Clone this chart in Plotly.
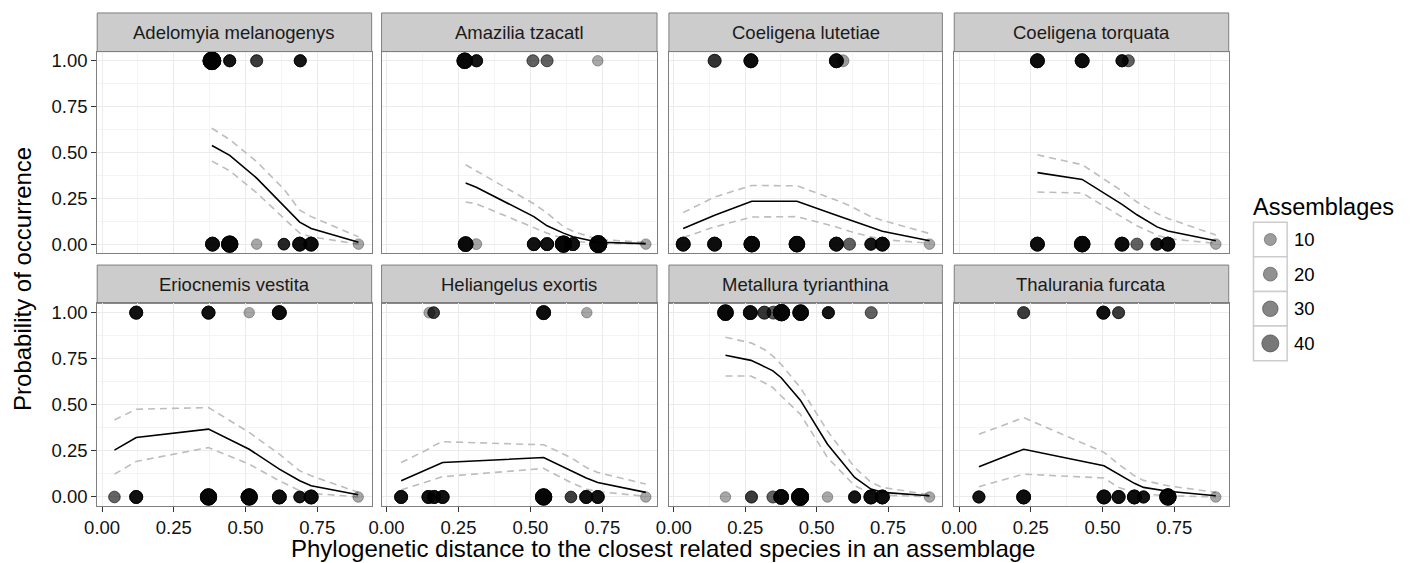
import plotly.graph_objects as go

# ---------------- data ----------------
species = ["Adelomyia melanogenys", "Amazilia tzacatl", "Coeligena lutetiae", "Coeligena torquata",
           "Eriocnemis vestita", "Heliangelus exortis", "Metallura tyrianthina", "Thalurania furcata"]

x_ticks = [0.00, 0.25, 0.50, 0.75]
x_tick_labels = ["0.00", "0.25", "0.50", "0.75"]
y_ticks = [0.00, 0.25, 0.50, 0.75, 1.00]
y_tick_labels = ["0.00", "0.25", "0.50", "0.75", "1.00"]
legend_values = [10, 20, 30, 40]

# observed points: distance, occurrence (0/1), assemblages, number of identical records
adelomyia_x = [0.383, 0.445, 0.539, 0.691, 0.385, 0.445, 0.539, 0.634, 0.689, 0.729, 0.894]
adelomyia_y = [1, 1, 1, 1, 0, 0, 0, 0, 0, 0, 0]
adelomyia_n = [45, 10, 10, 10, 20, 35, 3, 8, 20, 20, 3]
adelomyia_k = [5, 5, 3, 5, 5, 5, 1, 4, 5, 5, 1]
adelomyia_fit_x = [0.383, 0.445, 0.539, 0.634, 0.689, 0.729, 0.894]
adelomyia_fit = [0.538, 0.484, 0.360, 0.210, 0.120, 0.085, 0.010]
adelomyia_hi = [0.632, 0.570, 0.450, 0.300, 0.185, 0.150, 0.040]
adelomyia_lo = [0.453, 0.400, 0.280, 0.140, 0.060, 0.040, 0.000]

amazilia_x = [0.272, 0.313, 0.509, 0.558, 0.734, 0.275, 0.312, 0.512, 0.558, 0.615, 0.648, 0.736, 0.901]
amazilia_y = [1, 1, 1, 1, 1, 0, 0, 0, 0, 0, 0, 0, 0]
amazilia_n = [30, 10, 10, 10, 3, 25, 5, 15, 15, 35, 15, 40, 3]
amazilia_k = [5, 5, 2, 2, 1, 5, 1, 5, 5, 5, 5, 5, 1]
amazilia_fit_x = [0.275, 0.312, 0.512, 0.558, 0.615, 0.648, 0.736, 0.901]
amazilia_fit = [0.333, 0.310, 0.150, 0.100, 0.060, 0.040, 0.010, 0.003]
amazilia_hi = [0.433, 0.400, 0.220, 0.170, 0.095, 0.070, 0.025, 0.010]
amazilia_lo = [0.230, 0.220, 0.090, 0.060, 0.030, 0.015, 0.005, 0.000]

lutetiae_x = [0.143, 0.270, 0.592, 0.569, 0.033, 0.143, 0.273, 0.431, 0.569, 0.615, 0.690, 0.730, 0.895]
lutetiae_y = [1, 1, 1, 1, 0, 0, 0, 0, 0, 0, 0, 0, 0]
lutetiae_n = [15, 20, 10, 20, 20, 20, 30, 30, 20, 10, 10, 20, 3]
lutetiae_k = [3, 5, 1, 5, 5, 5, 5, 5, 5, 2, 5, 5, 1]
lutetiae_fit_x = [0.033, 0.143, 0.273, 0.431, 0.569, 0.615, 0.690, 0.730, 0.895]
lutetiae_fit = [0.085, 0.157, 0.234, 0.234, 0.158, 0.133, 0.091, 0.070, 0.018]
lutetiae_hi = [0.172, 0.257, 0.320, 0.318, 0.240, 0.210, 0.150, 0.130, 0.058]
lutetiae_lo = [0.036, 0.094, 0.148, 0.150, 0.094, 0.070, 0.040, 0.025, 0.005]

torquata_x = [0.273, 0.429, 0.590, 0.568, 0.273, 0.429, 0.568, 0.620, 0.690, 0.728, 0.895]
torquata_y = [1, 1, 1, 1, 0, 0, 0, 0, 0, 0, 0]
torquata_n = [20, 20, 10, 10, 20, 30, 20, 10, 10, 20, 3]
torquata_k = [5, 5, 2, 5, 5, 5, 5, 2, 5, 5, 1]
torquata_fit_x = [0.273, 0.429, 0.568, 0.620, 0.690, 0.728, 0.895]
torquata_fit = [0.390, 0.353, 0.217, 0.160, 0.094, 0.072, 0.018]
torquata_hi = [0.487, 0.433, 0.290, 0.230, 0.167, 0.140, 0.050]
torquata_lo = [0.284, 0.279, 0.148, 0.100, 0.050, 0.030, 0.004]

eriocnemis_x = [0.119, 0.371, 0.513, 0.618, 0.043, 0.119, 0.371, 0.513, 0.618, 0.689, 0.729, 0.893]
eriocnemis_y = [1, 1, 1, 1, 0, 0, 0, 0, 0, 0, 0, 0]
eriocnemis_n = [15, 15, 3, 20, 8, 15, 35, 35, 20, 8, 20, 3]
eriocnemis_k = [5, 5, 1, 5, 2, 5, 5, 5, 5, 5, 5, 1]
eriocnemis_fit_x = [0.043, 0.119, 0.371, 0.513, 0.618, 0.689, 0.729, 0.893]
eriocnemis_fit = [0.254, 0.323, 0.368, 0.259, 0.151, 0.088, 0.061, 0.012]
eriocnemis_hi = [0.418, 0.476, 0.485, 0.350, 0.232, 0.142, 0.115, 0.025]
eriocnemis_lo = [0.124, 0.193, 0.268, 0.178, 0.088, 0.034, 0.020, 0.000]

heliangelus_x = [0.149, 0.164, 0.546, 0.696, 0.051, 0.146, 0.166, 0.195, 0.546, 0.641, 0.694, 0.734, 0.901]
heliangelus_y = [1, 1, 1, 1, 0, 0, 0, 0, 0, 0, 0, 0, 0]
heliangelus_n = [5, 8, 20, 3, 15, 15, 15, 15, 35, 8, 15, 15, 3]
heliangelus_k = [1, 3, 5, 1, 5, 5, 5, 5, 5, 3, 5, 5, 1]
heliangelus_fit_x = [0.051, 0.146, 0.166, 0.195, 0.546, 0.641, 0.694, 0.734, 0.901]
heliangelus_fit = [0.088, 0.153, 0.167, 0.187, 0.214, 0.142, 0.103, 0.079, 0.025]
heliangelus_hi = [0.187, 0.260, 0.280, 0.300, 0.283, 0.214, 0.160, 0.133, 0.070]
heliangelus_lo = [0.038, 0.085, 0.095, 0.110, 0.155, 0.078, 0.043, 0.030, 0.003]

metallura_x = [0.181, 0.268, 0.317, 0.349, 0.377, 0.444, 0.541, 0.691,
               0.181, 0.272, 0.347, 0.376, 0.442, 0.538, 0.633, 0.690, 0.730, 0.895]
metallura_y = [1, 1, 1, 1, 1, 1, 1, 1, 0, 0, 0, 0, 0, 0, 0, 0, 0, 0]
metallura_n = [30, 20, 15, 15, 35, 30, 10, 10, 3, 10, 10, 25, 40, 3, 10, 20, 20, 3]
metallura_k = [5, 5, 3, 2, 5, 5, 5, 2, 1, 3, 2, 5, 5, 1, 5, 5, 5, 1]
metallura_fit_x = [0.181, 0.270, 0.317, 0.347, 0.376, 0.443, 0.538, 0.633, 0.690, 0.730, 0.895]
metallura_fit = [0.769, 0.741, 0.707, 0.684, 0.647, 0.525, 0.286, 0.106, 0.043, 0.025, 0.007]
metallura_hi = [0.866, 0.836, 0.800, 0.764, 0.719, 0.593, 0.358, 0.160, 0.080, 0.052, 0.012]
metallura_lo = [0.656, 0.656, 0.620, 0.593, 0.548, 0.449, 0.214, 0.061, 0.020, 0.010, 0.002]

thalurania_x = [0.225, 0.503, 0.556, 0.069, 0.225, 0.505, 0.556, 0.611, 0.643, 0.728, 0.895]
thalurania_y = [1, 1, 1, 0, 0, 0, 0, 0, 0, 0, 0]
thalurania_n = [10, 15, 10, 10, 20, 20, 15, 20, 10, 35, 3]
thalurania_k = [3, 5, 3, 5, 5, 5, 5, 5, 5, 5, 1]
thalurania_fit_x = [0.069, 0.225, 0.505, 0.556, 0.611, 0.643, 0.728, 0.895]
thalurania_fit = [0.164, 0.259, 0.169, 0.124, 0.074, 0.052, 0.031, 0.007]
thalurania_hi = [0.340, 0.431, 0.242, 0.178, 0.115, 0.090, 0.061, 0.025]
thalurania_lo = [0.056, 0.124, 0.103, 0.052, 0.025, 0.016, 0.007, 0.000]

panels = [
    (adelomyia_x, adelomyia_y, adelomyia_n, adelomyia_k, adelomyia_fit_x, adelomyia_fit, adelomyia_hi, adelomyia_lo),
    (amazilia_x, amazilia_y, amazilia_n, amazilia_k, amazilia_fit_x, amazilia_fit, amazilia_hi, amazilia_lo),
    (lutetiae_x, lutetiae_y, lutetiae_n, lutetiae_k, lutetiae_fit_x, lutetiae_fit, lutetiae_hi, lutetiae_lo),
    (torquata_x, torquata_y, torquata_n, torquata_k, torquata_fit_x, torquata_fit, torquata_hi, torquata_lo),
    (eriocnemis_x, eriocnemis_y, eriocnemis_n, eriocnemis_k, eriocnemis_fit_x, eriocnemis_fit, eriocnemis_hi, eriocnemis_lo),
    (heliangelus_x, heliangelus_y, heliangelus_n, heliangelus_k, heliangelus_fit_x, heliangelus_fit, heliangelus_hi, heliangelus_lo),
    (metallura_x, metallura_y, metallura_n, metallura_k, metallura_fit_x, metallura_fit, metallura_hi, metallura_lo),
    (thalurania_x, thalurania_y, thalurania_n, thalurania_k, thalurania_fit_x, thalurania_fit, thalurania_hi, thalurania_lo),
]

# ---------------- styling helpers ----------------
W, H = 1413, 563
FONT = "Liberation Sans, Arial, sans-serif"


def size_of(n):
    return (95.7 + 4.83 * n) ** 0.5


def color_of(n):
    a = 0.47 + 0.007 * n
    return f"rgba(0,0,0,{a:.3f})"


def px_x(p):
    return p / W


def px_y(p):
    return 1 - p / H


col_px = [(85, 362), (372, 650), (662, 938), (950, 1227)]
row_px = [(50.8, 253.2), (303.5, 507.0)]
strip_px = [(12.0, 50.8), (265.0, 303.5)]

fig = go.Figure()
shapes = []
annotations = []
layout_axes = {}

for i, (px_, py_, pn, pk, fx, ff, fh, fl) in enumerate(panels):
    r, c = divmod(i, 4)
    idx = "" if i == 0 else str(i + 1)
    xa, ya = "x" + idx, "y" + idx

    # confidence band edges and fit
    for yy, colr, dash in [(fh, "#bdbdbd", "7px,5px"), (fl, "#bdbdbd", "7px,5px"), (ff, "#000000", "solid")]:
        fig.add_trace(go.Scatter(x=fx, y=yy, mode="lines", xaxis=xa, yaxis=ya, showlegend=False,
                                 hoverinfo="skip",
                                 line=dict(color=colr, width=1.6, dash=dash)))

    # points (identical records stacked)
    ex, ey, es, ec = [], [], [], []
    for x, y, n, k in zip(px_, py_, pn, pk):
        for _ in range(k):
            ex.append(x)
            ey.append(y)
            es.append(size_of(n))
            ec.append(color_of(n))
    fig.add_trace(go.Scatter(x=ex, y=ey, mode="markers", xaxis=xa, yaxis=ya, showlegend=False,
                             marker=dict(size=es, color=ec, line=dict(color=ec, width=1))))

    x0, x1 = col_px[c]
    y0, y1 = row_px[r]
    grid = dict(showgrid=True, gridcolor="#ebebeb", gridwidth=1, zeroline=False,
                showline=True, linecolor="#7f7f7f", linewidth=1, mirror=True,
                ticks="outside", ticklen=5, tickwidth=1, tickcolor="#333333",
                tickfont=dict(family=FONT, size=18.5, color="#111111"))
    minor = dict(showgrid=True, gridcolor="#f4f4f4", gridwidth=1, tickvals=[0.125, 0.375, 0.625, 0.875])
    layout_axes["xaxis" + idx] = dict(grid, domain=[px_x(x0), px_x(x1)], range=[-0.017, 0.940],
                                      anchor=ya, tickvals=x_ticks, ticktext=x_tick_labels,
                                      showticklabels=(r == 1),
                                      ticks="outside" if r == 1 else "", minor=minor)
    layout_axes["yaxis" + idx] = dict(grid, domain=[px_y(y1), px_y(y0)], range=[-0.05, 1.05],
                                      anchor=xa, tickvals=y_ticks, ticktext=y_tick_labels,
                                      showticklabels=(c == 0),
                                      ticks="outside" if c == 0 else "", minor=minor)

    # facet strip
    s0, s1 = strip_px[r]
    shapes.append(dict(type="rect", xref="paper", yref="paper",
                       x0=px_x(x0), x1=px_x(x1), y0=px_y(s1), y1=px_y(s0),
                       fillcolor="#cccccc", line=dict(color="#7f7f7f", width=1), layer="below"))
    annotations.append(dict(text=species[i], xref="paper", yref="paper",
                            x=px_x((x0 + x1) / 2), y=px_y((s0 + s1) / 2),
                            showarrow=False, xanchor="center", yanchor="middle",
                            font=dict(family=FONT, size=18.5, color="#1a1a1a")))

# ---------------- legend (drawn on its own small axis) ----------------
leg_x0, leg_x1 = 1252, 1286
leg_top, leg_bot = 222, 361
leg_pos = list(range(len(legend_values)))
fig.add_trace(go.Scatter(x=[0] * len(legend_values), y=leg_pos, mode="markers", xaxis="x9", yaxis="y9",
                         showlegend=False, hoverinfo="skip",
                         marker=dict(size=[size_of(v) for v in legend_values],
                                     color=[color_of(v) for v in legend_values],
                                     line=dict(color=[color_of(v) for v in legend_values], width=1))))
layout_axes["xaxis9"] = dict(domain=[px_x(leg_x0), px_x(leg_x1)], range=[-0.5, 0.5], anchor="y9",
                             visible=False, fixedrange=True)
layout_axes["yaxis9"] = dict(domain=[px_y(leg_bot), px_y(leg_top)], range=[3.5, -0.5], anchor="x9",
                             visible=False, fixedrange=True)
step = (leg_bot - leg_top) / len(legend_values)
for j, v in enumerate(legend_values):
    t = leg_top + j * step
    shapes.append(dict(type="rect", xref="paper", yref="paper",
                       x0=px_x(leg_x0), x1=px_x(leg_x1), y0=px_y(t + step), y1=px_y(t),
                       fillcolor="white", line=dict(color="#cccccc", width=1.5), layer="below"))
    annotations.append(dict(text=str(v), xref="paper", yref="paper",
                            x=px_x(leg_x1 + 5), y=px_y(t + step / 2), showarrow=False,
                            xanchor="left", yanchor="middle",
                            font=dict(family=FONT, size=18.5, color="#000000")))
annotations.append(dict(text="Assemblages", xref="paper", yref="paper",
                        x=px_x(1250), y=px_y(207), showarrow=False, xanchor="left", yanchor="middle",
                        font=dict(family=FONT, size=23.5, color="#000000")))

# ---------------- axis titles ----------------
annotations.append(dict(text="Phylogenetic distance to the closest related species in an assemblage",
                        xref="paper", yref="paper", x=px_x(656), y=px_y(549.5), showarrow=False,
                        xanchor="center", yanchor="middle",
                        font=dict(family=FONT, size=24, color="#000000")))
annotations.append(dict(text="Probability of occurrence", xref="paper", yref="paper",
                        x=px_x(9), y=px_y(279), showarrow=False, textangle=-90,
                        xanchor="center", yanchor="middle",
                        font=dict(family=FONT, size=24, color="#000000")))

fig.update_layout(width=W, height=H, margin=dict(l=0, r=0, t=0, b=0),
                  paper_bgcolor="white", plot_bgcolor="white", showlegend=False,
                  shapes=shapes, annotations=annotations, **layout_axes)

fig.write_html("out.html", config={"displayModeBar": False},
               post_script="document.body.style.margin='0';document.body.style.padding='0';"
                           "document.body.style.overflow='hidden';")
